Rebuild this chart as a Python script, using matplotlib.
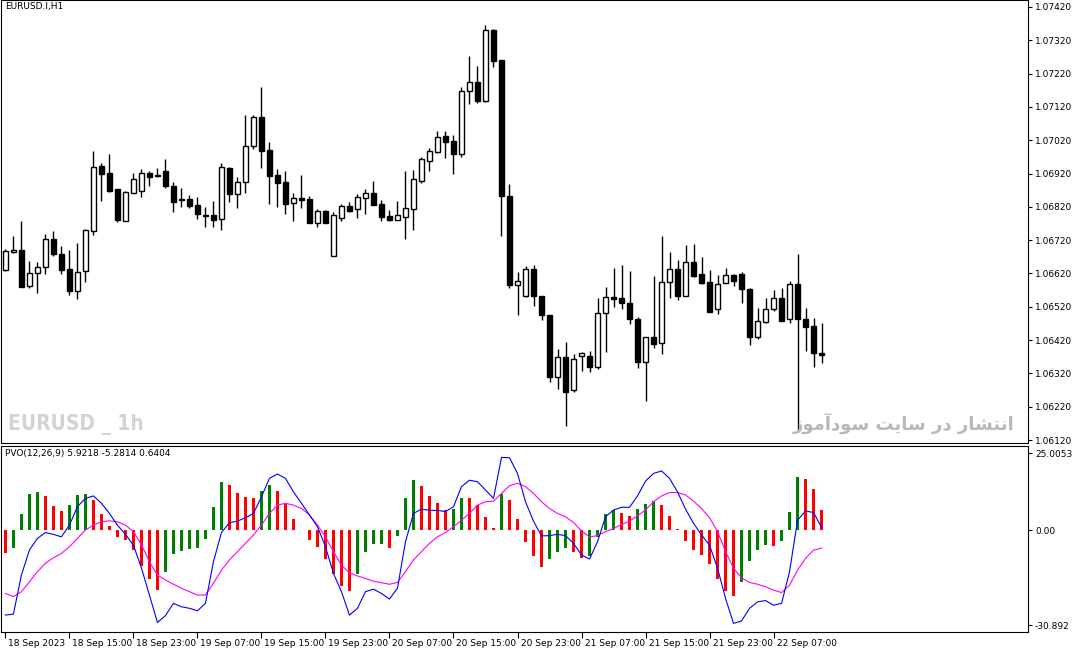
import numpy as np
import matplotlib
matplotlib.use("Agg")
import matplotlib.pyplot as plt
import matplotlib.transforms as mtrans

# OHLC (bar 0 = 18 Sep 2023 07:00)
opens = [1.06631, 1.06683, 1.06691, 1.06581, 1.06621, 1.06639, 1.06723, 1.06679, 1.06634, 1.06566,
         1.06626, 1.06746, 1.06943, 1.06921, 1.06874, 1.06779, 1.06863, 1.06869, 1.06921, 1.06915,
         1.06928, 1.06883, 1.06845, 1.06844, 1.06825, 1.06796, 1.06796, 1.06783, 1.06937, 1.06860,
         1.06894, 1.07002, 1.07089, 1.06991, 1.06916, 1.06894, 1.06831, 1.06846, 1.06843, 1.06770,
         1.06808, 1.06671, 1.06788, 1.06823, 1.06813, 1.06848, 1.06862, 1.06829, 1.06793, 1.06782,
         1.06791, 1.06815, 1.06899, 1.06959, 1.06985, 1.07033, 1.07018, 1.06980, 1.07167, 1.07195,
         1.07138, 1.07351, 1.07261, 1.06853, 1.06584, 1.06551, 1.06634, 1.06553, 1.06495, 1.06310,
         1.06370, 1.06270, 1.06373, 1.06373, 1.06338, 1.06500, 1.06548, 1.06545, 1.06530, 1.06482,
         1.06355, 1.06428, 1.06410, 1.06593, 1.06632, 1.06553, 1.06653, 1.06618, 1.06593, 1.06512,
         1.06590, 1.06614, 1.06617, 1.06572, 1.06430, 1.06475, 1.06512, 1.06545, 1.06482, 1.06588,
         1.06483, 1.06462, 1.06380]
highs = [1.06693, 1.06731, 1.06778, 1.06658, 1.06654, 1.06739, 1.06748, 1.06703, 1.06691, 1.06711,
         1.06754, 1.06988, 1.06951, 1.06979, 1.06874, 1.06868, 1.06921, 1.06933, 1.06928, 1.06936,
         1.06963, 1.06894, 1.06876, 1.06856, 1.06849, 1.06819, 1.06838, 1.06951, 1.06939, 1.06909,
         1.07096, 1.07096, 1.07179, 1.07015, 1.06933, 1.06928, 1.06861, 1.06916, 1.06853, 1.06813,
         1.06811, 1.06804, 1.06828, 1.06835, 1.06859, 1.06874, 1.06898, 1.06841, 1.06811, 1.06838,
         1.06928, 1.06931, 1.06971, 1.06998, 1.07048, 1.07048, 1.07036, 1.07179, 1.07273, 1.07243,
         1.07366, 1.07354, 1.07261, 1.06889, 1.06624, 1.06641, 1.06646, 1.06553, 1.06495, 1.06393,
         1.06414, 1.06378, 1.06383, 1.06388, 1.06545, 1.06580, 1.06635, 1.06645, 1.06627, 1.06490,
         1.06430, 1.06612, 1.06732, 1.06683, 1.06660, 1.06705, 1.06708, 1.06668, 1.06630, 1.06615,
         1.06635, 1.06618, 1.06623, 1.06575, 1.06515, 1.06545, 1.06570, 1.06575, 1.06597, 1.06678,
         1.06515, 1.06485, 1.06470]
lows = [1.06626, 1.06681, 1.06578, 1.06576, 1.06561, 1.06618, 1.06671, 1.06619, 1.06556, 1.06544,
        1.06593, 1.06736, 1.06839, 1.06866, 1.06776, 1.06779, 1.06861, 1.06851, 1.06883, 1.06911,
        1.06876, 1.06806, 1.06819, 1.06818, 1.06785, 1.06758, 1.06758, 1.06749, 1.06836, 1.06818,
        1.06863, 1.06993, 1.06938, 1.06828, 1.06821, 1.06800, 1.06779, 1.06818, 1.06770, 1.06758,
        1.06770, 1.06671, 1.06779, 1.06805, 1.06788, 1.06799, 1.06827, 1.06778, 1.06778, 1.06782,
        1.06724, 1.06751, 1.06891, 1.06929, 1.06983, 1.06968, 1.06919, 1.06969, 1.07128, 1.07133,
        1.07136, 1.07241, 1.06731, 1.06576, 1.06496, 1.06548, 1.06523, 1.06481, 1.06295, 1.06272,
        1.06163, 1.06265, 1.06328, 1.06323, 1.06333, 1.06385, 1.06518, 1.06512, 1.06467, 1.06335,
        1.06238, 1.06395, 1.06377, 1.06547, 1.06540, 1.06552, 1.06608, 1.06587, 1.06505, 1.06497,
        1.06590, 1.06583, 1.06532, 1.06405, 1.06422, 1.06470, 1.06508, 1.06478, 1.06470, 1.06145,
        1.06388, 1.06338, 1.06351]
closes = [1.06686, 1.06691, 1.06578, 1.06621, 1.06639, 1.06723, 1.06678, 1.06629, 1.06566, 1.06624,
          1.06751, 1.06939, 1.06919, 1.06869, 1.06781, 1.06864, 1.06904, 1.06921, 1.06911, 1.06912,
          1.06884, 1.06836, 1.06841, 1.06823, 1.06800, 1.06794, 1.06781, 1.06939, 1.06860, 1.06894,
          1.07002, 1.07089, 1.06989, 1.06914, 1.06893, 1.06830, 1.06846, 1.06842, 1.06770, 1.06808,
          1.06770, 1.06796, 1.06823, 1.06809, 1.06849, 1.06862, 1.06827, 1.06791, 1.06781, 1.06796,
          1.06816, 1.06903, 1.06963, 1.06987, 1.07029, 1.07016, 1.06980, 1.07168, 1.07195, 1.07138,
          1.07351, 1.07259, 1.06854, 1.06584, 1.06598, 1.06634, 1.06551, 1.06496, 1.06310, 1.06370,
          1.06265, 1.06363, 1.06380, 1.06338, 1.06500, 1.06548, 1.06544, 1.06530, 1.06482, 1.06355,
          1.06430, 1.06407, 1.06595, 1.06632, 1.06553, 1.06653, 1.06613, 1.06592, 1.06505, 1.06587,
          1.06614, 1.06598, 1.06572, 1.06430, 1.06477, 1.06512, 1.06545, 1.06478, 1.06588, 1.06482,
          1.06460, 1.06382, 1.06374]

# PVO(12,26,9): line, signal, histogram
pvo = [-27.6, -27.3, -14.6, -6.5, -2.7, -0.8, -1.4, -2.2, 1.6, 7.6, 10.3, 11.1, 8.7, 5.4, 1.6, -1.4,
       -4.9, -12.3, -21.1, -30.0, -27.8, -23.8, -24.9, -25.4, -26.2, -23.8, -10.3, -0.8, 2.4, 2.9,
       4.0, 5.4, 10.8, 16.8, 18.2, 16.8, 12.4, 8.7, 4.9, 1.1, -5.4, -14.1, -20.0, -27.6, -25.4, -20.0,
       -19.2, -20.6, -22.4, -18.9, -3.8, 5.4, 6.8, 6.4, 6.4, 6.0, 7.6, 14.1, 16.2, 15.7, 13.0, 10.3,
       23.6, 23.5, 18.4, 9.2, 2.9, -1.9, -1.8, -1.4, -1.8, -4.3, -8.1, -9.4, -3.8, 4.3, 6.5, 7.4, 7.4,
       11.1, 15.9, 18.4, 19.2, 16.8, 12.4, 6.8, 2.2, -1.6, -4.9, -12.4, -22.2, -30.3, -29.5, -25.4,
       -23.3, -22.9, -24.4, -23.8, -13.5, 3.2, 6.2, 5.7, 0.9]
signal = [-20.6, -21.6, -20.0, -16.8, -13.5, -10.8, -9.0, -7.6, -5.4, -2.7, 0.0, 1.6, 2.7, 3.0, 2.7,
          1.6, -0.5, -4.7, -10.3, -14.6, -16.2, -17.6, -18.9, -20.0, -21.1, -21.1, -17.3, -13.0, -9.7,
          -7.0, -4.3, -1.6, 1.6, 5.4, 8.1, 8.7, 8.1, 7.0, 4.9, 1.6, -2.2, -7.0, -11.4, -13.9, -14.9,
          -15.7, -16.6, -17.1, -17.6, -17.0, -13.5, -9.7, -7.0, -4.3, -2.2, -0.8, 1.1, 3.2, 5.4, 8.1,
          9.2, 9.4, 11.9, 14.4, 15.2, 14.1, 11.9, 9.2, 7.0, 5.4, 4.3, 2.5, -0.3, -2.2, -1.8, -0.5, 0.5,
          1.8, 2.9, 4.7, 6.5, 9.2, 11.1, 12.2, 12.2, 11.4, 9.4, 7.0, 4.0, -0.5, -7.0, -12.4, -15.5,
          -17.0, -17.6, -18.4, -19.5, -20.3, -17.9, -13.0, -9.2, -6.5, -5.9]
hist = [-7.4, -5.7, 5.2, 11.7, 12.3, 11.0, 7.8, 6.2, 8.1, 11.4, 11.7, 9.7, 5.2, 1.3, -2.2, -3.2,
        -6.5, -11.6, -15.9, -19.5, -13.6, -7.8, -6.8, -6.0, -5.7, -2.9, 7.6, 15.6, 14.6, 12.0, 10.7,
        10.3, 12.8, 14.6, 12.6, 8.4, 3.6, 0.0, -3.2, -5.4, -9.4, -14.3, -18.1, -19.7, -14.3, -7.0,
        -4.5, -4.4, -5.7, -1.9, 10.5, 16.2, 14.3, 11.0, 8.9, 6.5, 6.8, 10.5, 10.4, 8.1, 4.3, 0.8,
        11.7, 9.7, 3.6, -3.8, -8.3, -11.9, -9.3, -7.0, -5.7, -7.0, -9.0, -8.3, -2.2, 5.2, 6.4, 5.5,
        4.5, 6.8, 8.4, 9.4, 8.1, 4.5, 0.3, -3.5, -6.4, -8.1, -11.0, -15.9, -19.7, -21.4, -16.8,
        -10.1, -6.5, -4.9, -5.1, -3.6, 5.8, 17.2, 16.6, 13.4, 6.5]

date_labels = ["18 Sep 2023", "18 Sep 15:00", "18 Sep 23:00", "19 Sep 07:00", "19 Sep 15:00",
               "19 Sep 23:00", "20 Sep 07:00", "20 Sep 15:00", "20 Sep 23:00", "21 Sep 07:00",
               "21 Sep 15:00", "21 Sep 23:00", "22 Sep 07:00"]
price_ticks = [1.07420, 1.07320, 1.07220, 1.07120, 1.07020, 1.06920, 1.06820, 1.06720,
               1.06620, 1.06520, 1.06420, 1.06320, 1.06220, 1.06120]

n = len(opens)
x = np.arange(n)
o, h, l, c = map(np.array, (opens, highs, lows, closes))
up = c >= o

fig = plt.figure(figsize=(10.76, 6.53), dpi=100)
W, H = 1076, 653
ax = fig.add_axes([1 / W, 1 - 443 / H, 1027 / W, 443 / H])
ax2 = fig.add_axes([1 / W, 1 - 632 / H, 1027 / W, 186 / H])
xlim = (-0.55, 127.8)

# candles
ax.vlines(x, l, h, color="black", lw=1)
ax.bar(x[up], np.maximum(c - o, 0.000015)[up], bottom=o[up], width=0.6,
       facecolor="white", edgecolor="black", lw=1, zorder=3)
ax.bar(x[~up], np.maximum(o - c, 0.000015)[~up], bottom=c[~up], width=0.6,
       facecolor="black", edgecolor="black", lw=1, zorder=3)
ax.set_xlim(*xlim)
ax.set_ylim(1.06111, 1.07441)
ax.yaxis.tick_right()
ax.set_yticks(price_ticks)
ax.set_yticklabels([f"{p:.5f}" for p in price_ticks], fontsize=6.5)
ax.set_xticks([])
ax.tick_params(axis="y", length=3, pad=2)
ax.text(0.004, 0.995, "EURUSD.I,H1", transform=ax.transAxes, fontsize=6.5, va="top")
ax.text(0.007, 0.03, "EURUSD _ 1h", transform=ax.transAxes, fontsize=15, fontweight="bold",
        color="#d3d3d3", family="DejaVu Sans", fontstretch="condensed")

# Persian watermark, pre-shaped presentation forms in visual order
shaped = ["\uFE8D", "\uFEE7", "\uFE98", "\uFEB8", "\uFE8E", "\uFEAD", " ",
          "\uFEA9", "\uFEAD", " ",
          "\uFEB3", "\uFE8E", "\uFBFE", "\uFE96", " ",
          "\uFEB3", "\uFEEE", "\uFEA9", "\uFE81", "\uFEE3", "\uFEEE", "\uFEAF"]
ax.text(0.987, 0.03, "".join(reversed(shaped)), transform=ax.transAxes, fontsize=13,
        fontweight="bold", color="#b8b8b8", ha="right")

# PVO panel
hcol = ["green" if i > 0 and hist[i] > hist[i - 1] else "red" for i in range(n)]
hcol[0] = "red"
ax2.bar(x, hist, width=0.45, color=hcol)
ax2.plot(x, signal, color="magenta", lw=0.8)
ax2.plot(x, pvo, color="blue", lw=0.8)
ax2.set_xlim(*xlim)
ax2.set_ylim(-33.1, 27.3)
ax2.yaxis.tick_right()
ax2.set_yticks([25.0053, 0.0, -30.892])
ax2.set_yticklabels(["25.0053", "0.00", "-30.892"], fontsize=6.5)
ax2.tick_params(axis="y", length=3, pad=2)
ax2.set_xticks(np.arange(0, 97, 8))
ax2.set_xticklabels(date_labels, fontsize=6.5, ha="left")
ax2.tick_params(axis="x", length=4, pad=1)
off = mtrans.ScaledTranslation(3 / 100, 0, fig.dpi_scale_trans)
for t in ax2.get_xticklabels():
    t.set_transform(t.get_transform() + off)
ax2.text(0.004, 0.985, "PVO(12,26,9) 5.9218 -5.2814 0.6404", transform=ax2.transAxes,
         fontsize=6.5, va="top")

for a in (ax, ax2):
    for s in a.spines.values():
        s.set_linewidth(0.8)

fig.savefig("out.png", dpi=100, facecolor="white")
